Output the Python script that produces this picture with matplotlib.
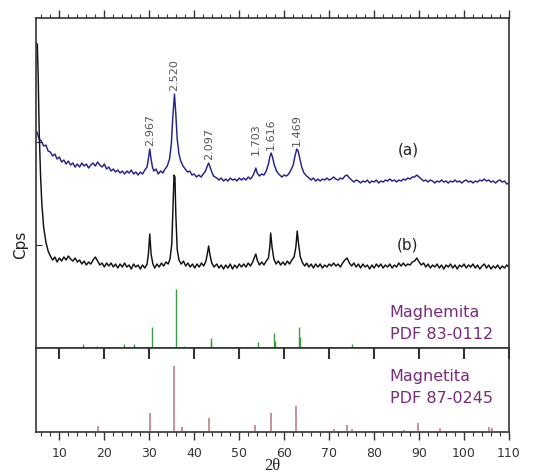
import numpy as np
import matplotlib
matplotlib.use("Agg")
import matplotlib.pyplot as plt
from matplotlib.ticker import MultipleLocator

# ---- datos ----
# muestra (a)
two_theta_a = [5.0, 5.5, 6.0, 6.5, 7.0, 7.5, 8.0, 8.5, 9.0, 9.5, 10.0, 10.5, 11.0, 11.5,
               12.0, 12.5, 13.0, 13.5, 14.0, 14.5, 15.0, 15.5, 16.0, 16.5, 17.0, 17.5,
               18.0, 18.5, 19.0, 19.5, 20.0, 20.5, 21.0, 21.5, 22.0, 22.5, 23.0, 23.5,
               24.0, 24.5, 25.0, 25.5, 26.0, 26.5, 27.0, 27.5, 28.0, 28.5, 29.0, 29.5,
               29.8, 30.1, 30.4, 30.7, 31.0, 31.5, 32.0, 32.5, 33.0, 33.5, 34.0, 34.5,
               34.9, 35.2, 35.6, 35.9, 36.2, 36.6, 37.0, 37.5, 38.0, 38.5, 39.0, 39.5,
               40.0, 40.5, 41.0, 41.5, 42.0, 42.5, 42.9, 43.2, 43.5, 43.9, 44.3, 45.0,
               45.5, 46.0, 46.5, 47.0, 47.5, 48.0, 48.5, 49.0, 49.5, 50.0, 50.5, 51.0,
               51.5, 52.0, 52.5, 53.0, 53.4, 53.7, 54.0, 54.5, 55.0, 55.5, 56.0, 56.5,
               56.8, 57.1, 57.4, 57.8, 58.3, 58.8, 59.5, 60.0, 60.5, 61.0, 61.5, 62.0,
               62.4, 62.8, 63.1, 63.5, 63.9, 64.4, 65.0, 65.5, 66.0, 66.5, 67.0, 67.5,
               68.0, 68.5, 69.0, 69.5, 70.0, 70.5, 71.0, 71.5, 72.0, 72.5, 73.0, 73.5,
               74.0, 74.5, 75.0, 75.5, 76.0, 76.5, 77.0, 77.5, 78.0, 78.5, 79.0, 79.5,
               80.0, 80.5, 81.0, 81.5, 82.0, 82.5, 83.0, 83.5, 84.0, 84.5, 85.0, 85.5,
               86.0, 86.5, 87.0, 87.5, 88.0, 88.5, 89.0, 89.5, 90.0, 90.5, 91.0, 91.5,
               92.0, 92.5, 93.0, 93.5, 94.0, 94.5, 95.0, 95.5, 96.0, 96.5, 97.0, 97.5,
               98.0, 98.5, 99.0, 99.5, 100.0, 100.5, 101.0, 101.5, 102.0, 102.5, 103.0,
               103.5, 104.0, 104.5, 105.0, 105.5, 106.0, 106.5, 107.0, 107.5, 108.0,
               108.5, 109.0, 109.5, 110.0]
cps_a = [216, 209, 207, 202, 203, 197, 196, 192, 194, 189, 191, 186, 188, 184,
         187, 183, 185, 181, 184, 181, 185, 182, 184, 180, 183, 185,
         182, 186, 183, 181, 184, 179, 181, 177, 179, 176, 178, 175,
         177, 174, 177, 175, 178, 174, 176, 173, 176, 174, 178, 181,
         189, 199, 189, 181, 177, 179, 174, 177, 175, 179, 182, 189,
         204, 229, 254, 234, 209, 194, 187, 182, 179, 176, 177, 173,
         174, 171, 173, 171, 174, 177, 182, 185, 181, 176, 172, 170,
         168, 170, 167, 169, 167, 170, 168, 169, 167, 170, 168, 170,
         168, 171, 169, 172, 176, 180, 175, 172, 174, 173, 177, 184,
         191, 195, 191, 183, 177, 174, 171, 173, 172, 174, 178, 183,
         192, 199, 197, 189, 181, 175, 172, 170, 168, 170, 167, 169,
         167, 169, 168, 170, 168, 169, 171, 169, 168, 170, 169, 172,
         173, 170, 168, 166, 168, 167, 165, 167, 166, 168, 165, 167,
         166, 168, 165, 167, 166, 168, 167, 169, 167, 168, 166, 168,
         167, 169, 168, 170, 169, 171, 171, 173, 171, 169, 167, 168,
         166, 168, 167, 165, 167, 166, 168, 166, 167, 165, 167, 166,
         168, 166, 167, 165, 167, 168, 166, 167, 165, 167, 166,
         168, 167, 169, 167, 168, 166, 167, 165, 167, 168,
         166, 167, 164, 165]

# muestra (b)
two_theta_b = [5.1, 5.3, 5.5, 5.8, 6.1, 6.5, 7.0, 7.5, 8.0, 8.5, 9.0, 9.5, 10.0, 10.5,
               11.0, 11.5, 12.0, 12.5, 13.0, 13.5, 14.0, 14.5, 15.0, 15.5, 16.0, 16.5,
               17.0, 17.5, 18.0, 18.5, 19.0, 19.5, 20.0, 20.5, 21.0, 21.5, 22.0, 22.5,
               23.0, 23.5, 24.0, 24.5, 25.0, 25.5, 26.0, 26.5, 27.0, 27.5, 28.0, 28.5,
               29.0, 29.5, 29.8, 30.1, 30.4, 30.8, 31.2, 31.7, 32.2, 32.7, 33.2, 33.7,
               34.2, 34.6, 35.0, 35.3, 35.5, 35.7, 35.9, 36.2, 36.6, 37.1, 37.6, 38.1,
               38.6, 39.1, 39.6, 40.1, 40.6, 41.1, 41.6, 42.1, 42.6, 42.9, 43.2, 43.5,
               43.9, 44.4, 45.0, 45.5, 46.0, 46.5, 47.0, 47.5, 48.0, 48.5, 49.0, 49.5,
               50.0, 50.5, 51.0, 51.5, 52.0, 52.5, 53.0, 53.4, 53.7, 54.0, 54.5, 55.0,
               55.5, 56.0, 56.5, 56.8, 57.0, 57.3, 57.7, 58.2, 58.7, 59.2, 59.7, 60.2,
               60.7, 61.2, 61.7, 62.2, 62.6, 62.9, 63.2, 63.6, 64.1, 64.6, 65.0, 65.5,
               66.0, 66.5, 67.0, 67.5, 68.0, 68.5, 69.0, 69.5, 70.0, 70.5, 71.0, 71.5,
               72.0, 72.5, 73.0, 73.5, 74.0, 74.5, 75.0, 75.5, 76.0, 76.5, 77.0, 77.5,
               78.0, 78.5, 79.0, 79.5, 80.0, 80.5, 81.0, 81.5, 82.0, 82.5, 83.0, 83.5,
               84.0, 84.5, 85.0, 85.5, 86.0, 86.5, 87.0, 87.5, 88.0, 88.5, 89.0, 89.5,
               90.0, 90.5, 91.0, 91.5, 92.0, 92.5, 93.0, 93.5, 94.0, 94.5, 95.0, 95.5,
               96.0, 96.5, 97.0, 97.5, 98.0, 98.5, 99.0, 99.5, 100.0, 100.5, 101.0,
               101.5, 102.0, 102.5, 103.0, 103.5, 104.0, 104.5, 105.0, 105.5, 106.0,
               106.5, 107.0, 107.5, 108.0, 108.5, 109.0, 109.5, 110.0]
cps_b = [304, 269, 219, 174, 144, 121, 106, 97, 92, 88, 91, 86, 90, 87,
         91, 88, 92, 89, 87, 90, 86, 88, 84, 87, 83, 86,
         84, 88, 91, 87, 83, 85, 81, 85, 82, 85, 81, 84,
         80, 84, 81, 85, 81, 83, 79, 84, 81, 83, 79, 83,
         80, 84, 94, 114, 94, 84, 80, 84, 81, 85, 82, 86,
         84, 89, 104, 144, 173, 171, 134, 99, 88, 84, 87, 82,
         85, 81, 84, 80, 84, 81, 85, 82, 87, 94, 102, 93,
         85, 81, 84, 80, 83, 79, 83, 80, 84, 79, 83, 80,
         84, 81, 84, 81, 85, 82, 86, 91, 94, 88, 83, 86,
         83, 87, 90, 101, 115, 101, 89, 84, 87, 83, 86, 83,
         87, 84, 88, 91, 101, 117, 104, 91, 85, 82, 85, 81,
         84, 80, 84, 81, 84, 80, 83, 81, 84, 82, 85, 82,
         84, 81, 85, 88, 90, 85, 82, 85, 81, 84, 80, 84,
         81, 83, 79, 83, 80, 84, 81, 84, 80, 83, 81, 84,
         80, 83, 81, 85, 82, 85, 82, 84, 83, 86, 87, 90,
         86, 83, 85, 81, 84, 80, 83, 81, 84, 80, 83, 79,
         83, 81, 84, 80, 83, 79, 83, 81, 84, 80, 83,
         81, 84, 80, 83, 79, 82, 84, 80, 83, 79,
         82, 80, 83, 79, 82, 80, 83, 81]

# distancias d marcadas sobre (a)
peak_2theta = [30.1, 35.6, 43.2, 53.7, 57.1, 62.8]
peak_d = ["2.967", "2.520", "2.097", "1.703", "1.616", "1.469"]

# patrones de referencia (intensidad relativa %)
maghemita_2theta = [15.2, 18.4, 24.3, 26.5, 30.5, 35.9, 37.7, 43.7, 43.8, 54.1,
                    57.7, 57.9, 63.3, 63.5, 75.0]
maghemita_int = [7, 3, 7, 7, 36, 100, 4, 17, 10, 10, 25, 12, 36, 18, 6]
magnetita_2theta = [18.5, 30.1, 35.4, 37.2, 43.3, 53.4, 57.0, 62.6, 71.0, 74.0,
                    75.0, 86.7, 89.7, 94.6, 105.5, 106.3]
magnetita_int = [8, 28, 100, 6, 20, 9, 28, 38, 3, 9, 3, 2, 12, 4, 6, 4]

# ---- figura ----
fig = plt.figure(figsize=(5.47, 4.77), dpi=100)
ax = fig.add_axes([0.0658, 0.2683, 0.8647, 0.6918])
ax2 = fig.add_axes([0.0658, 0.0922, 0.8647, 0.1761])

spine_col = "#333333"
for a in (ax, ax2):
    for s in a.spines.values():
        s.set_color(spine_col)
        s.set_linewidth(1.2)
    a.set_xlim(4.8, 110)

ax.plot(two_theta_a, cps_a, color="#23238c", lw=1.05)
ax.plot(two_theta_b, cps_b, color="#111111", lw=1.05)

# barras maghemita (escala: 100 % -> 59 unidades)
mag_scale = 0.59
ax.vlines(maghemita_2theta, 0, np.array(maghemita_int) * mag_scale,
          color="#3a9a45", lw=1.0)
ax.set_ylim(0, 330)

# etiquetas d
lift = {"1.703": 14}
for x, lab in zip(peak_2theta, peak_d):
    y = np.interp(x, two_theta_a, cps_a) + lift.get(lab, 4)
    ax.text(x, y, lab, rotation=90, ha="center", va="bottom",
            fontsize=8, color="#555555")

ax.text(87.5, 199, "(a)", fontsize=11, ha="center", va="center", color="#222222")
ax.text(87.5, 104, "(b)", fontsize=11, ha="center", va="center", color="#222222")
ax.text(83.5, 37, "Maghemita", fontsize=11.5, color="#7a2a7a", va="center")
ax.text(83.5, 15, "PDF 83-0112", fontsize=11.5, color="#7a2a7a", va="center")

# ejes del panel superior
ax.xaxis.set_major_locator(MultipleLocator(10))
ax.xaxis.set_minor_locator(MultipleLocator(2))
ax.tick_params(axis="x", which="both", top=True, bottom=False, labeltop=False,
               labelbottom=False, direction="out", color=spine_col)
ax.tick_params(axis="x", which="major", length=6, width=1.0)
ax.tick_params(axis="x", which="minor", length=3, width=0.8)
ax.set_yticks([103, 206])
ax.tick_params(axis="y", direction="in", length=4, labelleft=False, color=spine_col)

# panel inferior: magnetita
ax2.vlines(magnetita_2theta, 0, magnetita_int, color="#b8737c", lw=1.1)
ax2.set_ylim(-1.5, 128)
ax2.set_yticks([])
ax2.text(83.5, 85, "Magnetita", fontsize=11.5, color="#7a2a7a", va="center")
ax2.text(83.5, 52, "PDF 87-0245", fontsize=11.5, color="#7a2a7a", va="center")

ax2.xaxis.set_major_locator(MultipleLocator(10))
ax2.xaxis.set_minor_locator(MultipleLocator(2))
ax2.set_xticks(np.arange(10, 111, 10))
ax2.tick_params(axis="x", which="both", direction="out", color=spine_col,
                labelsize=9, labelcolor="#333333", pad=4)
ax2.tick_params(axis="x", which="major", length=6, width=1.0)
ax2.tick_params(axis="x", which="minor", length=3, width=0.8)

# marcas de la linea divisoria
sec = ax2.secondary_xaxis("top")
sec.set_xticks(np.arange(10, 111, 10))
sec.tick_params(axis="x", direction="in", length=8, width=1.5,
                labeltop=False, color=spine_col)
sec.spines["top"].set_visible(False)

fig.text(0.037, 0.486, "Cps", rotation=90, ha="center", va="center",
         fontsize=11, color="#222222")
fig.text(0.497, 0.006, "2\u03b8", ha="center", va="bottom", fontsize=12,
         family="Liberation Serif", color="#222222")

fig.savefig("out.png", dpi=100)
